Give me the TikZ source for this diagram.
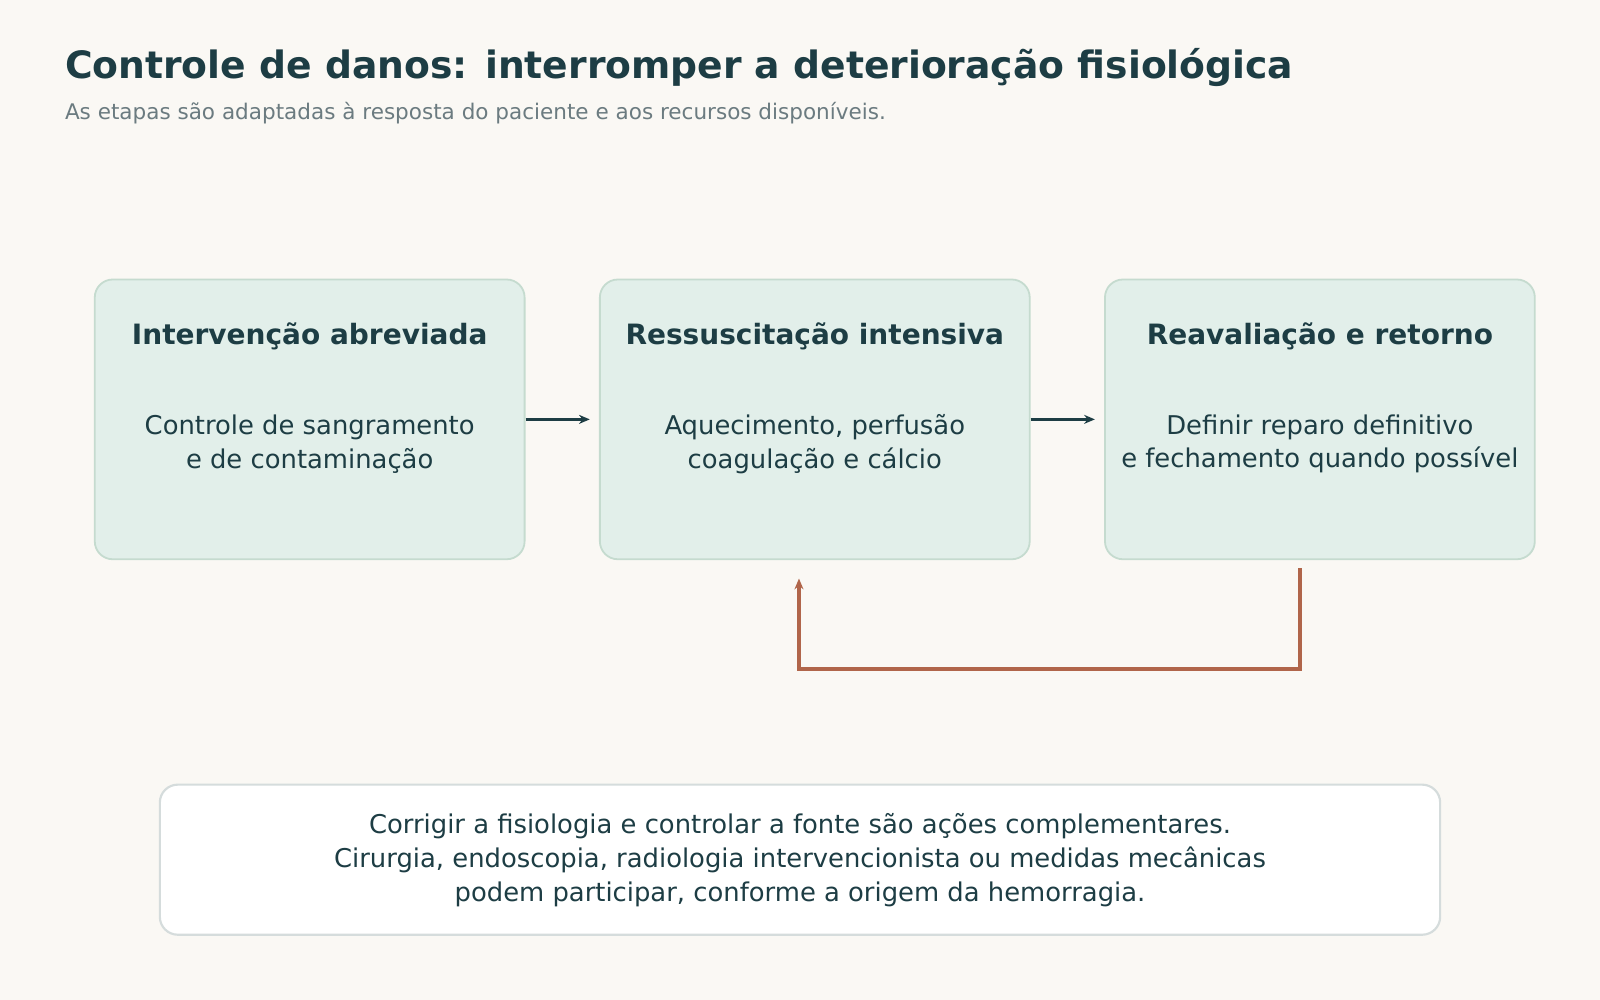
\documentclass[tikz,border=0pt]{standalone}
\usepackage{fontspec}
\setmainfont{DejaVu Sans}
\usetikzlibrary{arrows.meta,positioning,calc}
\definecolor{bgc}{HTML}{FAF8F4}
\definecolor{boxfill}{HTML}{E2EFEA}
\definecolor{boxline}{HTML}{C5DBCF}
\definecolor{ink}{HTML}{1D3D44}
\definecolor{muted}{HTML}{6B7B80}
\definecolor{loopc}{HTML}{B0654A}
\definecolor{noteline}{HTML}{D5DCDC}
\begin{document}
\begin{tikzpicture}[
    x=0.01cm, y=-0.01cm,
    font=\fontsize{7.2pt}{9.4pt}\selectfont,
    stage/.style={rectangle, rounded corners=5pt, draw=boxline, fill=boxfill, line width=0.5pt, minimum width=4.21cm, minimum height=2.74cm},
    head/.style={font=\fontsize{7.8pt}{9pt}\selectfont\bfseries, text=ink},
    body/.style={align=center, text=ink},
    arrow/.style={-{Stealth[length=3pt,width=2.5pt]}, line width=1pt, draw=ink},
    back/.style={-{Stealth[length=3pt,width=2.5pt]}, line width=1.1pt, draw=loopc}
]
    \fill[bgc] (0,0) rectangle (1568,980);
    \useasboundingbox (0,0) rectangle (1568,980);

    % title
    \node[anchor=base west, inner sep=0pt, text=ink, font=\fontsize{10.5pt}{12pt}\selectfont\bfseries] (title) at (63,77) {Controle de danos: interromper a deterioração fisiológica};
    \node[anchor=base west, inner sep=0pt, text=muted, font=\fontsize{6pt}{7pt}\selectfont] (sub) at (63,117) {As etapas são adaptadas à resposta do paciente e aos recursos disponíveis.};

    % stages
    \node[stage] (s1) at (303.5,411) {};
    \node[stage] (s2) at (798.5,411) {};
    \node[stage] (s3) at (1293.5,411) {};
    \node[head] at (303.5,330) {Intervenção abreviada};
    \node[head] at (798.5,330) {Ressuscitação intensiva};
    \node[head] at (1293.5,330) {Reavaliação e retorno};
    \node[body] (b1) at (303.5,435) {Controle de sangramento\\e de contaminação};
    \node[body] (b2) at (798.5,435) {Aquecimento, perfusão\\coagulação e cálcio};
    \node[body] (b3) at (1293.5,435) {Definir reparo definitivo\\e fechamento quando possível};

    \draw[arrow] (s1.east) -- ++(63,0);
    \draw[arrow] (s2.east) -- ++(63,0);

    % feedback
    \coordinate (lf) at (1274,557);
    \coordinate (lt) at (783,567);
    \draw[back] (lf) -- (1274,656) -- (783,656) -- (lt);

    % note
    \node[rectangle, rounded corners=5pt, draw=noteline, fill=white, line width=0.6pt, minimum width=12.54cm, minimum height=1.47cm] (note) at (784,842.5) {};
    \node[body] at (784,843) {Corrigir a fisiologia e controlar a fonte são ações complementares.\\Cirurgia, endoscopia, radiologia intervencionista ou medidas mecânicas\\podem participar, conforme a origem da hemorragia.};
\end{tikzpicture}
\end{document}
